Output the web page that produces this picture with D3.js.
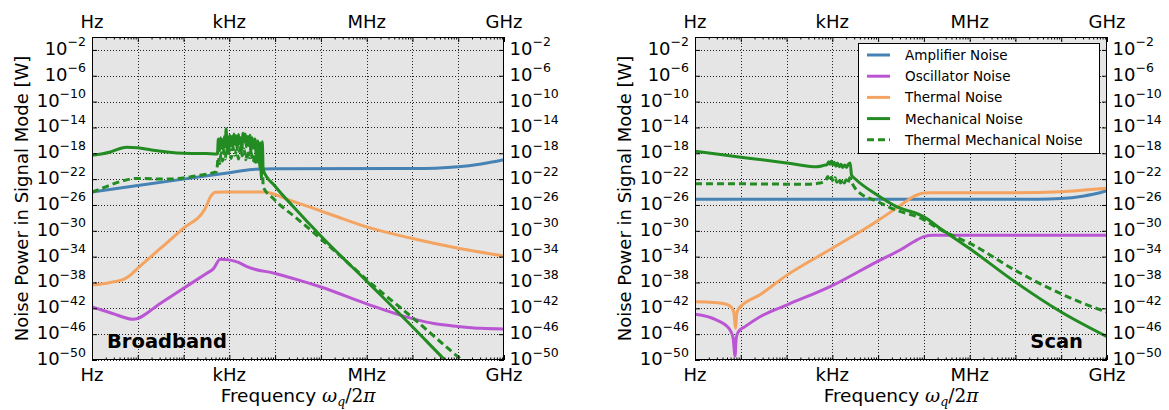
<!DOCTYPE html>
<html>
<head>
<meta charset="utf-8">
<script src="https://cdn.jsdelivr.net/npm/d3@7"></script>
<style>
  body { margin: 0; background: #fff; }
  svg text { font-family: "DejaVu Sans", sans-serif; fill: #000; }
</style>
</head>
<body>
<svg id="chart" width="1169" height="410"></svg>
<script>
// ---- data: each point is [log10(frequency / Hz), log10(power / W)] ----
const freqUnitLabels = ["Hz", "kHz", "MHz", "GHz"];
const freqUnitExponents = [0, 3, 6, 9];
const powerTickExponents = [-2, -6, -10, -14, -18, -22, -26, -30, -34, -38, -42, -46, -50];
const seriesNames = ["Amplifier Noise", "Oscillator Noise", "Thermal Noise",
                     "Mechanical Noise", "Thermal Mechanical Noise"];
const seriesColors = ["#4682b4", "#ba55d3", "#f4a460", "#228b22", "#228b22"];
const seriesDashed = [false, false, false, false, true];

// broadband mode
const broadbandAmplifier = [[0,-24],[1,-23],[2,-22],[3,-21],[3.5,-20.5],[4,-20.4],[7,-20.35],
  [7.5,-20.3],[8,-20.1],[8.5,-19.65],[9,-19.0]];
const broadbandOscillator = [[0,-41.8],[0.45,-42.8],[0.9,-43.7],[1.5,-41.2],[2,-38.9],[2.5,-36.6],
  [2.65,-35.9],[2.8,-34.4],[3.0,-34.5],[3.2,-34.9],[3.4,-35.6],[4,-36.6],[4.5,-37.6],[5,-38.7],
  [6,-41.3],[7,-43.6],[7.5,-44.4],[8,-44.8],[8.5,-45.1],[9,-45.2]];
const broadbandThermal = [[0,-38.4],[0.4,-38.0],[0.72,-37.4],[0.85,-36.8],[1,-35.8],[1.5,-32.7],
  [2,-29.6],[2.47,-26.6],[2.6,-24.6],[2.7,-24.05],[2.9,-24.0],[3.78,-24.0],[4.0,-24.4],
  [4.3,-25.2],[4.87,-26.6],[5.5,-28.2],[6,-29.4],[7,-31.2],[8,-32.7],[9,-33.9]];
const broadbandMechanical = [[0,-18.3],[0.4,-17.8],[0.6,-17.3],[0.76,-17.05],[1.0,-17.15],
  [1.3,-17.5],[2,-18.0],[2.5,-18.05],[2.74,-18.1],
  [2.76,-15.8],[2.79,-17.6],[2.81,-15.6],[2.83,-17.2],[2.85,-15.9],[2.87,-17.5],[2.89,-15.4],
  [2.91,-16.9],[2.93,-14.2],[2.95,-17.3],[2.97,-15.5],[2.99,-17.8],[3.01,-15.2],[3.04,-16.8],
  [3.06,-15.4],[3.08,-17.1],[3.10,-15.0],[3.13,-16.6],[3.15,-15.3],[3.17,-17.4],[3.20,-15.1],
  [3.22,-16.5],[3.25,-15.6],[3.27,-17.6],[3.30,-14.9],[3.32,-16.2],[3.35,-15.0],[3.37,-17.0],
  [3.40,-15.4],[3.42,-16.8],[3.45,-15.2],[3.47,-17.9],[3.50,-15.6],[3.53,-17.2],[3.56,-15.8],
  [3.59,-18.4],[3.62,-16.1],[3.65,-19.0],[3.68,-16.4],[3.70,-21.9],[3.72,-16.2],[3.74,-20.6],
  [4.0,-23.1],[4.43,-26.5],[5,-30.8],[6,-37.8],[7,-44.85],[7.71,-50],[8.5,-55.5]];
const broadbandThermalMechanical = [[0,-24],[0.3,-23.2],[0.54,-22.55],[0.98,-21.9],[1.63,-22.0],
  [2.36,-21.4],[2.72,-20.85],
  [2.76,-18.6],[2.79,-19.6],[2.82,-17.9],[2.85,-19.2],[2.88,-17.6],[2.91,-18.9],[2.94,-17.2],
  [2.97,-18.5],[3.00,-17.4],[3.04,-18.8],[3.08,-17.1],[3.12,-18.3],[3.16,-17.5],[3.20,-18.9],
  [3.24,-17.0],[3.28,-18.4],[3.32,-17.3],[3.36,-19.0],[3.40,-17.6],[3.44,-18.7],[3.48,-17.9],
  [3.52,-19.4],[3.56,-18.1],[3.60,-19.8],[3.64,-18.5],[3.68,-20.5],[3.72,-19.2],[3.74,-23.2],
  [3.96,-25.0],[4.14,-26.2],[4.39,-27.6],[5.2,-32.5],[6.18,-38.65],[7.02,-43.55],[7.86,-48.7],
  [8.6,-53]];

// scan mode
const scanAmplifier = [[0,-25.1],[7.5,-25.1],[8,-25.0],[8.5,-24.6],[8.8,-24.2],[9,-23.8]];
const scanOscillator = [[0,-42.9],[0.47,-43.8],[0.75,-45.2],[0.83,-46.5],[0.875,-49.4],[0.9,-46.6],
  [0.95,-45.6],[1.1,-44.8],[1.42,-43.3],[2,-41.5],[3.02,-38.4],[3.97,-34.8],[4.5,-32.9],
  [4.85,-31.4],[5.0,-30.9],[5.2,-30.7],[9,-30.7]];
const scanThermal = [[0,-41.0],[0.4,-41.1],[0.7,-41.4],[0.8,-41.9],[0.85,-42.7],[0.885,-45.1],
  [0.91,-42.9],[0.95,-42.1],[1.0,-41.7],[1.42,-39.9],[2,-36.9],[3,-32.7],[4,-28.4],[4.5,-26.0],
  [4.8,-24.6],[5.0,-24.15],[5.2,-24.1],[7,-24.1],[8,-23.95],[8.5,-23.7],[9,-23.4]];
const scanMechanical = [[0,-17.7],[1,-18.6],[2,-19.5],[2.66,-20.1],[2.75,-20.0],[2.85,-19.8],
  [2.88,-19.8],[2.92,-19.3],[2.95,-19.7],[2.98,-19.2],[3.01,-19.8],[3.04,-19.4],[3.08,-20.0],
  [3.11,-19.5],[3.15,-20.1],[3.19,-19.7],[3.23,-20.2],[3.27,-19.8],[3.31,-20.2],[3.35,-19.7],
  [3.39,-19.5],[3.42,-21.4],[3.49,-21.9],[3.99,-24.5],[4.48,-26.5],[4.65,-26.9],[4.8,-27.2],
  [4.99,-27.8],[5.35,-29.6],[5.99,-32.7],[6.99,-37.9],[7.98,-42.5],[9,-46.4]];
const scanThermalMechanical = [[0,-22.7],[1.5,-22.75],[2.44,-22.8],[2.73,-22.6],[2.85,-22.3],
  [2.9,-21.6],[2.94,-22.3],[2.98,-21.7],[3.02,-22.4],[3.06,-21.8],[3.1,-22.5],[3.14,-21.9],
  [3.18,-22.6],[3.22,-22.0],[3.26,-22.6],[3.3,-22.1],[3.34,-22.7],[3.38,-21.8],[3.43,-22.6],
  [3.53,-23.7],[3.99,-25.5],[4.48,-27.0],[4.77,-27.6],[5.0,-28.3],[5.3,-29.6],[5.68,-30.9],
  [5.99,-31.9],[6.99,-36.1],[7.98,-39.7],[8.92,-42.4],[9,-42.6]];

// ---- layout ----
const svg = d3.select("#chart");
const TOP = 37, BOTTOM = 360;
const panels = [
  { id: "broadband", x0: 92, x1: 504, tag: "Broadband", tagAnchor: "start", legend: false,
    series: [broadbandAmplifier, broadbandOscillator, broadbandThermal,
             broadbandMechanical, broadbandThermalMechanical] },
  { id: "scan", x0: 695, x1: 1107, tag: "Scan", tagAnchor: "end", legend: true,
    series: [scanAmplifier, scanOscillator, scanThermal,
             scanMechanical, scanThermalMechanical] }
];

const y = d3.scaleLog().domain([1e-50, 1]).range([BOTTOM, TOP]);
const decades = d3.range(0, 10).map(e => Math.pow(10, e));
const minorFreqs = [];
for (let e = 0; e < 9; e++) for (let m = 2; m <= 9; m++) minorFreqs.push(m * Math.pow(10, e));
const powerTicks = powerTickExponents.map(e => Math.pow(10, e));

function powerLabel(sel, e) {
  sel.append("tspan").text("10");
  sel.append("tspan").attr("dy", -8.5).style("font-size", "12.5px").text("\u2212" + Math.abs(e));
}

panels.forEach(p => {
  const x = d3.scaleLog().domain([1, 1e9]).range([p.x0, p.x1]);
  const g = svg.append("g");
  const w = p.x1 - p.x0, h = BOTTOM - TOP;

  g.append("clipPath").attr("id", "clip-" + p.id)
    .append("rect").attr("x", p.x0).attr("y", TOP).attr("width", w).attr("height", h);

  g.append("rect").attr("x", p.x0).attr("y", TOP).attr("width", w).attr("height", h)
    .attr("fill", "#e5e5e5");

  // dotted grid
  const grid = g.append("g").attr("stroke", "#222").attr("stroke-width", 1)
    .attr("stroke-dasharray", "1,2").attr("shape-rendering", "crispEdges");
  grid.selectAll(".gx").data(decades.slice(1, -1)).join("line")
    .attr("x1", d => Math.round(x(d)) + 0.5).attr("x2", d => Math.round(x(d)) + 0.5)
    .attr("y1", TOP).attr("y2", BOTTOM);
  grid.selectAll(".gy").data(powerTicks).join("line")
    .attr("y1", d => Math.round(y(d)) + 0.5).attr("y2", d => Math.round(y(d)) + 0.5)
    .attr("x1", p.x0).attr("x2", p.x1);

  // noise curves
  const line = d3.line()
    .x(d => x(Math.pow(10, d[0])))
    .y(d => y(Math.pow(10, d[1])))
    .curve(d3.curveMonotoneX);
  const curves = g.append("g").attr("clip-path", `url(#clip-${p.id})`);
  p.series.forEach((s, i) => {
    curves.append("path").attr("d", line(s)).attr("fill", "none")
      .attr("stroke", seriesColors[i]).attr("stroke-width", 3)
      .attr("stroke-linejoin", "round")
      .attr("stroke-dasharray", seriesDashed[i] ? "7,4" : null);
  });

  // frame
  g.append("rect").attr("x", p.x0 + 0.5).attr("y", TOP + 0.5).attr("width", w - 1)
    .attr("height", h - 1).attr("fill", "none").attr("stroke", "#000").attr("stroke-width", 1);

  // inward ticks via d3 axes
  const tickStyle = a => { a.select(".domain").remove(); a.selectAll("text").remove();
                           a.selectAll("line").attr("stroke", "#000"); };
  g.append("g").attr("transform", `translate(0,${TOP})`)
    .call(d3.axisBottom(x).tickValues(decades).tickSize(5).tickFormat("")).call(tickStyle);
  g.append("g").attr("transform", `translate(0,${TOP})`)
    .call(d3.axisBottom(x).tickValues(minorFreqs).tickSize(2.5).tickFormat("")).call(tickStyle);
  g.append("g").attr("transform", `translate(0,${BOTTOM})`)
    .call(d3.axisTop(x).tickValues(decades).tickSize(5).tickFormat("")).call(tickStyle);
  g.append("g").attr("transform", `translate(0,${BOTTOM})`)
    .call(d3.axisTop(x).tickValues(minorFreqs).tickSize(2.5).tickFormat("")).call(tickStyle);
  g.append("g").attr("transform", `translate(${p.x0},0)`)
    .call(d3.axisRight(y).tickValues(powerTicks).tickSize(5).tickFormat("")).call(tickStyle);
  g.append("g").attr("transform", `translate(${p.x1},0)`)
    .call(d3.axisLeft(y).tickValues(powerTicks).tickSize(5).tickFormat("")).call(tickStyle);

  // frequency unit labels, top and bottom
  freqUnitExponents.forEach((e, i) => {
    [28, 381].forEach(by => {
      g.append("text").attr("x", x(Math.pow(10, e))).attr("y", by)
        .attr("text-anchor", "middle").style("font-size", "18px").text(freqUnitLabels[i]);
    });
  });

  // power tick labels, both sides
  powerTickExponents.forEach(e => {
    const ty = y(Math.pow(10, e)) + 5;
    g.append("text").attr("x", p.x0 - 6).attr("y", ty).attr("text-anchor", "end")
      .style("font-size", "18px").call(powerLabel, e);
    g.append("text").attr("x", p.x1 + 5.5).attr("y", ty).attr("text-anchor", "start")
      .style("font-size", "18px").call(powerLabel, e);
  });

  // axis titles
  const cy = (TOP + BOTTOM) / 2;
  g.append("text").attr("transform", `translate(${p.x0 - 64},${cy}) rotate(-90)`)
    .attr("text-anchor", "middle").style("font-size", "18px")
    .text("Noise Power in Signal Mode [W]");
  const xt = g.append("text").attr("x", (p.x0 + p.x1) / 2).attr("y", 402)
    .attr("text-anchor", "middle").style("font-size", "18.5px");
  xt.append("tspan").text("Frequency ");
  const mathFont = "'DejaVu Serif', serif";
  xt.append("tspan").style("font-family", mathFont).style("font-style", "italic").text("\u03C9");
  xt.append("tspan").attr("dy", 3.5).style("font-family", mathFont).style("font-style", "italic")
    .style("font-size", "12.5px").text("q");
  xt.append("tspan").attr("dy", -3.5).style("font-family", mathFont).text("/2");
  xt.append("tspan").style("font-family", mathFont).style("font-style", "italic").text("\u03C0");

  // mode tag
  g.append("text").attr("x", p.tagAnchor === "start" ? p.x0 + 15 : p.x1 - 24).attr("y", 348)
    .attr("text-anchor", p.tagAnchor).style("font-size", "19.5px").style("font-weight", "bold")
    .text(p.tag);

  // legend
  if (p.legend) {
    const lg = g.append("g");
    lg.append("rect").attr("x", 858.5).attr("y", 43.5).attr("width", 241).attr("height", 110)
      .attr("fill", "#fff").attr("stroke", "#000").attr("stroke-width", 1);
    seriesNames.forEach((name, i) => {
      const ly = 55 + i * 21.2;
      lg.append("line").attr("x1", 867).attr("x2", 890).attr("y1", ly).attr("y2", ly)
        .attr("stroke", seriesColors[i]).attr("stroke-width", 3)
        .attr("stroke-dasharray", seriesDashed[i] ? "7,4" : null);
      lg.append("text").attr("x", 905).attr("y", ly + 5).style("font-size", "13.5px").text(name);
    });
  }
});
</script>
</body>
</html>
